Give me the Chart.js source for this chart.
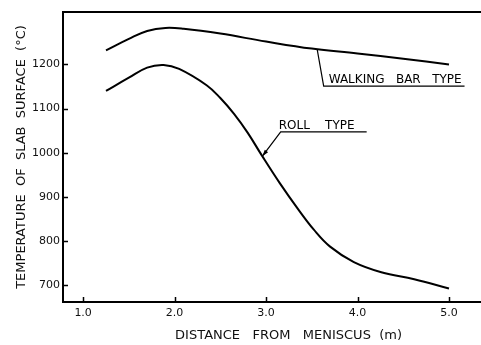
<!DOCTYPE html>
<html>
<head>
<meta charset="utf-8">
<script src="https://cdn.jsdelivr.net/npm/chart.js@4.4.1/dist/chart.umd.min.js"></script>
<style>
  html, body { margin: 0; padding: 0; background: #fff; }
</style>
</head>
<body>
<canvas id="myChart" width="481" height="345"></canvas>
<script>
// distance from meniscus (m) / slab surface temperature (°C)
const walkingX = [1.25, 1.5, 1.7, 1.9, 2.1, 2.5, 3.0, 3.5, 4.0, 4.5, 5.0];
const walkingY = [1232, 1258, 1276, 1283, 1281, 1270, 1252, 1236, 1225, 1213, 1200];
const rollX = [1.25, 1.5, 1.7, 1.88, 2.05, 2.35, 2.5, 2.65, 2.8, 2.95, 3.15, 3.35, 3.52, 3.7, 3.96, 4.26, 4.62, 5.0];
const rollY = [1140, 1170, 1193, 1199, 1190, 1153, 1124, 1088, 1045, 995, 931, 872, 826, 787, 752, 729, 713, 692];
const xTicks = [1, 2, 3, 4, 5];
const yTicks = [700, 800, 900, 1000, 1100, 1200];

const FONT = "'DejaVu Sans', sans-serif";

// leader-line labels, in data units: curve point, elbow, end of underline
const callouts = [
    { text: 'WALKING   BAR   TYPE', at: [3.56, 1233], elbow: [3.63, 1151], end: 5.17, dx: 5, arrow: false },
    { text: 'ROLL    TYPE', at: [2.96, 992], elbow: [3.16, 1047], end: 4.10, dx: -2, arrow: true }
];

const frame = {
    id: 'frame',
    afterDraw(chart) {
        const { ctx, chartArea: a, scales: { x, y } } = chart;
        ctx.save();
        ctx.strokeStyle = '#000';
        ctx.lineWidth = 2;
        ctx.beginPath();
        ctx.moveTo(a.left - 1, a.top);
        ctx.lineTo(a.right, a.top);
        ctx.stroke();

        // ticks point inward
        ctx.lineWidth = 1.5;
        ctx.beginPath();
        yTicks.forEach(v => {
            const py = Math.round(y.getPixelForValue(v)) + 0.5;
            ctx.moveTo(a.left, py);
            ctx.lineTo(a.left + 5, py);
        });
        xTicks.forEach(v => {
            const px = Math.round(x.getPixelForValue(v)) + 0.5;
            ctx.moveTo(px, a.bottom);
            ctx.lineTo(px, a.bottom - 5);
        });
        ctx.stroke();

        ctx.lineWidth = 1.2;
        ctx.fillStyle = '#000';
        ctx.font = '12px ' + FONT;
        ctx.textBaseline = 'alphabetic';
        callouts.forEach(c => {
            const x0 = x.getPixelForValue(c.at[0]), y0 = y.getPixelForValue(c.at[1]);
            const x1 = x.getPixelForValue(c.elbow[0]), y1 = y.getPixelForValue(c.elbow[1]);
            const x2 = x.getPixelForValue(c.end);
            ctx.beginPath();
            ctx.moveTo(x0, y0);
            ctx.lineTo(x1, y1);
            ctx.lineTo(x2, y1);
            ctx.stroke();
            if (c.arrow) {
                const ang = Math.atan2(y1 - y0, x1 - x0);
                ctx.beginPath();
                ctx.moveTo(x0, y0);
                ctx.lineTo(x0 + 7 * Math.cos(ang - 0.3), y0 + 7 * Math.sin(ang - 0.3));
                ctx.lineTo(x0 + 7 * Math.cos(ang + 0.3), y0 + 7 * Math.sin(ang + 0.3));
                ctx.closePath();
                ctx.fill();
            }
            ctx.fillText(c.text, x1 + c.dx, y1 - 3);
        });
        ctx.restore();
    }
};

const myChart = new Chart(document.getElementById('myChart'), {
    type: 'line',
    data: {
        datasets: [
            {
                label: 'Walking bar type',
                data: walkingX.map((v, i) => ({ x: v, y: walkingY[i] }))
            },
            {
                label: 'Roll type',
                data: rollX.map((v, i) => ({ x: v, y: rollY[i] }))
            }
        ]
    },
    options: {
        responsive: false,
        animation: false,
        devicePixelRatio: 1,
        layout: { padding: { top: 12, right: 0, left: 0, bottom: 0 } },
        elements: {
            line: { borderColor: '#000', borderWidth: 2, tension: 0.4 },
            point: { radius: 0 }
        },
        plugins: {
            legend: { display: false },
            tooltip: { enabled: false }
        },
        scales: {
            x: {
                type: 'linear',
                min: 0.78,
                max: 5.35,
                afterBuildTicks: s => { s.ticks = xTicks.map(v => ({ value: v })); },
                afterFit: s => { s.height = 43; },
                grid: { display: false, drawTicks: false },
                border: { display: true, color: '#000', width: 2 },
                ticks: {
                    color: '#111',
                    font: { family: FONT, size: 11 },
                    padding: 5,
                    maxRotation: 0,
                    autoSkip: false,
                    callback: v => Number(v).toFixed(1)
                },
                title: {
                    display: true,
                    text: '\u00a0\u00a0\u00a0\u00a0\u00a0\u00a0\u00a0\u00a0DISTANCE   FROM   MENISCUS  (m)',
                    color: '#111',
                    font: { family: FONT, size: 13 },
                    padding: { top: 0, bottom: 2 }
                }
            },
            y: {
                type: 'linear',
                min: 661.5,
                max: 1319,
                afterBuildTicks: s => { s.ticks = yTicks.map(v => ({ value: v })); },
                afterFit: s => { s.width = 63; },
                grid: { display: false, drawTicks: false },
                border: { display: true, color: '#000', width: 2 },
                ticks: {
                    color: '#111',
                    font: { family: FONT, size: 11 },
                    padding: 3,
                    autoSkip: false,
                    callback: v => String(v)
                },
                title: {
                    display: true,
                    text: 'TEMPERATURE  OF  SLAB  SURFACE  (°C)',
                    color: '#111',
                    font: { family: FONT, size: 13 },
                    padding: { top: 14, bottom: 0 }
                }
            }
        }
    },
    plugins: [frame]
});
</script>
</body>
</html>
